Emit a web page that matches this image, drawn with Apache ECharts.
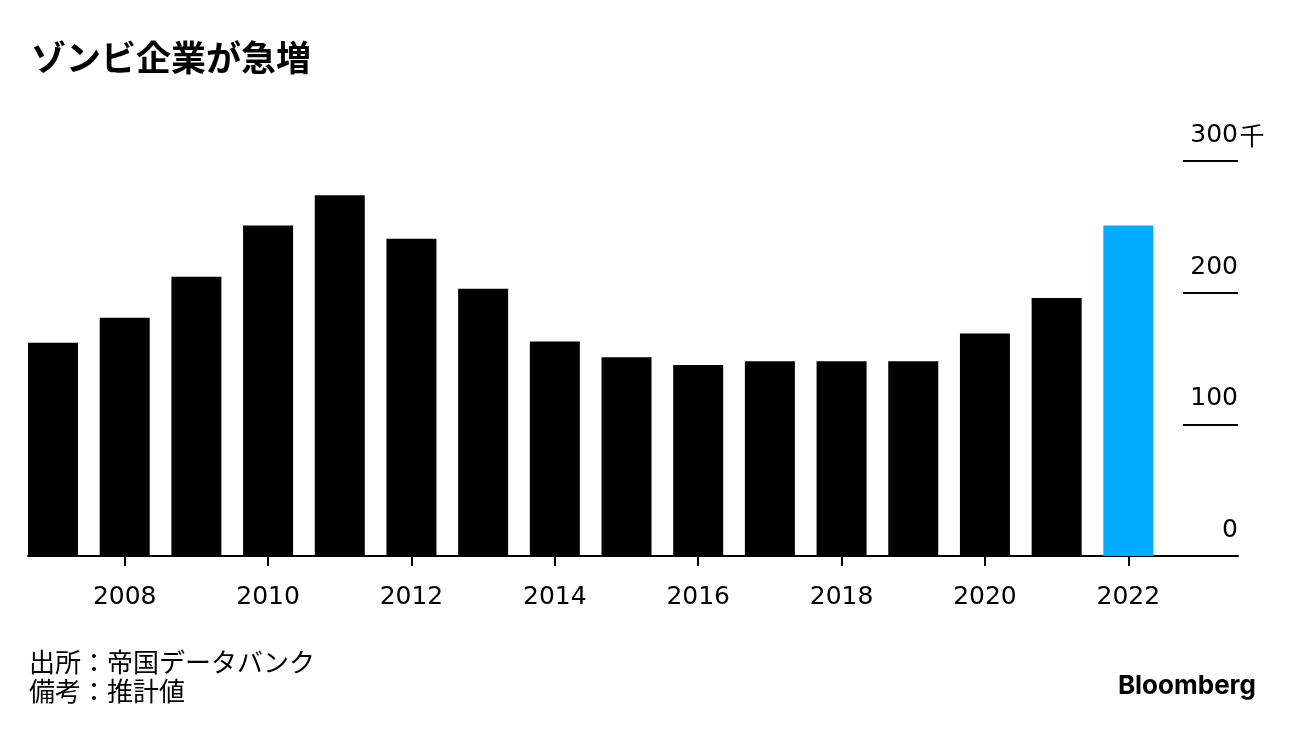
<!DOCTYPE html>
<html>
<head>
<meta charset="utf-8">
<script src="https://cdn.jsdelivr.net/npm/echarts@6/dist/echarts.min.js"></script>
<style>
html,body{margin:0;padding:0;background:#fff;}
#chart{width:1296px;height:732px;}
</style>
</head>
<body>
<div id="chart"></div>
<script>
const years = [2007,2008,2009,2010,2011,2012,2013,2014,2015,2016,2017,2018,2019,2020,2021,2022];
const values = [162,181,212,251,274,241,203,163,151,145,148,148,148,169,196,251];
const highlightYear = 2022;
const xTickYears = [2008,2010,2012,2014,2016,2018,2020,2022];
const yTicks = [0,100,200,300];
const unitLabel = '千';
const title = 'ゾンビ企業が急増';
const sourceLines = ['出所：帝国データバンク', '備考：推計値'];

const font = '"DejaVu Sans", Inter, sans-serif';
const cjk = '"Noto Sans CJK JP", "Noto Sans", sans-serif';

const chart = echarts.init(document.getElementById('chart'), null, {renderer: 'canvas'});
chart.setOption({
  animation: false,
  backgroundColor: '#ffffff',
  title: {
    text: title,
    left: 26, top: 35,
    textStyle: {fontFamily: cjk, fontSize: 35, fontWeight: 'bold', color: '#000'}
  },
  grid: {left: 28, right: 58, top: 161, bottom: 176},
  xAxis: {
    type: 'value',
    min: 2006.651, max: 2023.53,
    splitLine: {show: false},
    axisLine: {show: true, onZero: false, lineStyle: {color: '#000', width: 2}},
    axisTick: {show: true, customValues: xTickYears, length: 10, lineStyle: {color: '#000', width: 2}},
    axisLabel: {
      customValues: xTickYears,
      formatter: v => String(v),
      margin: 29,
      fontFamily: font, fontSize: 25, color: '#000'
    }
  },
  yAxis: {
    type: 'value',
    position: 'right',
    min: 0, max: 300, interval: 100,
    splitLine: {show: false},
    axisLine: {show: false},
    axisTick: {show: true, inside: true, length: 55, lineStyle: {color: '#000', width: 2}},
    axisLabel: {
      inside: true,
      margin: -28,
      verticalAlign: 'bottom',
      align: 'right',
      padding: [0, 0, 13, 0],
      formatter: v => v === yTicks[yTicks.length - 1] ? '{n|' + v + '}{k|' + unitLabel + '}' : '{n|' + v + '}{k| }',
      rich: {
        n: {fontFamily: font, fontSize: 25, color: '#000'},
        k: {fontFamily: cjk, fontSize: 25, color: '#000', width: 28, align: 'left'}
      }
    }
  },
  series: [{
    type: 'bar',
    barWidth: 50,
    data: years.map((y, i) => ({
      value: [y, values[i]],
      itemStyle: {color: y === highlightYear ? '#00aaff' : '#000000'}
    }))
  }],
  graphic: [
    {
      type: 'text', left: 29, top: 648,
      style: {text: sourceLines.join('\n'), font: '26px "Noto Sans CJK JP", sans-serif', lineHeight: 29, fill: '#000'}
    },
    {
      type: 'text', right: 40, top: 673,
      style: {text: 'Bloomberg', font: 'bold 26px Inter, "Noto Sans", sans-serif', fill: '#000'}
    }
  ]
});
</script>
</body>
</html>
